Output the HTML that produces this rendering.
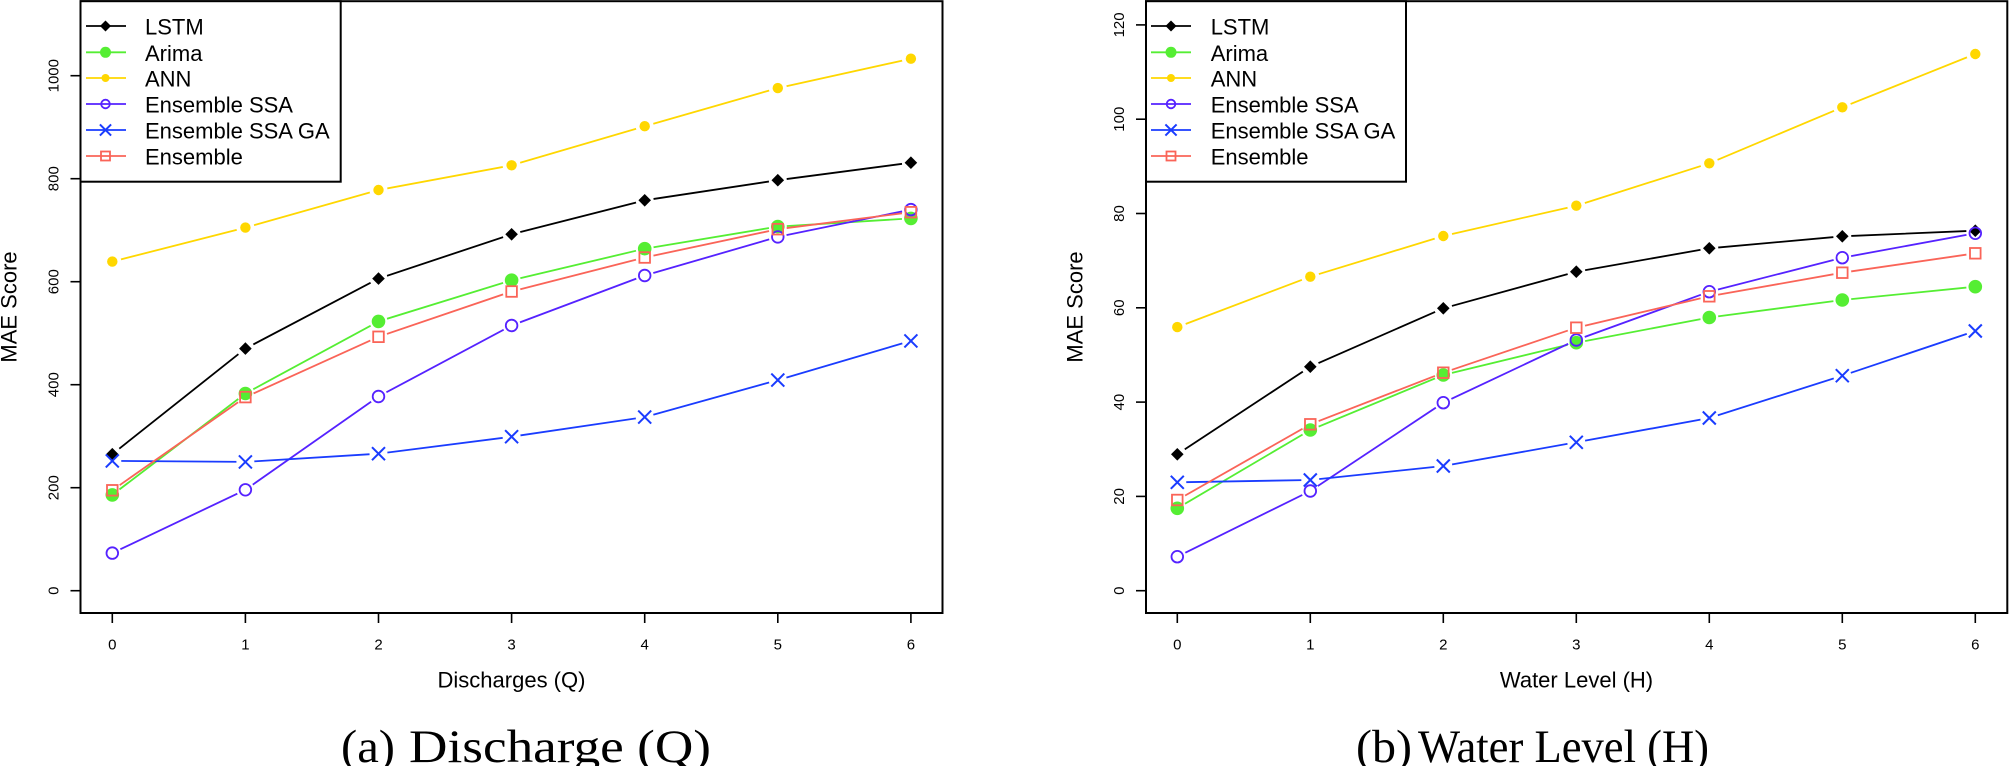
<!DOCTYPE html>
<html><head><meta charset="utf-8"><style>
html,body{margin:0;padding:0;background:#fff;}
svg{display:block;}
text{font-family:"Liberation Sans",Arial,sans-serif;fill:#000;}
.cap{font-family:"Liberation Serif","Times New Roman",serif;font-size:47px;}
.tk{font-size:15px;}
.lb{font-size:22px;}
.lg{font-size:22px;}
</style></head><body>
<svg width="2011" height="766" viewBox="0 0 2011 766" xmlns="http://www.w3.org/2000/svg">
<defs>
<polygon id="d" points="0,-6.3 6.3,0 0,6.3 -6.3,0" fill="#000"/>
<circle id="a" r="6.8" fill="#55ee33"/>
<circle id="n" r="5.2" fill="#ffd700"/>
<circle id="s" r="5.8" fill="none" stroke="#5522ff" stroke-width="1.8"/>
<path id="g" d="M-6.5,-6.5 L6.5,6.5 M-6.5,6.5 L6.5,-6.5" stroke="#1a3cff" stroke-width="2" fill="none"/>
<rect id="e" x="-5.3" y="-5.3" width="10.6" height="10.6" fill="none" stroke="#fa6458" stroke-width="1.8"/>
<polygon id="dl" points="0,-5.5 5.5,0 0,5.5 -5.5,0" fill="#000"/>
<circle id="al" r="5.5" fill="#55ee33"/>
<circle id="nl" r="4" fill="#ffd700"/>
<circle id="sl" r="4.3" fill="none" stroke="#5522ff" stroke-width="1.8"/>
<path id="gl" d="M-5.6,-5.6 L5.6,5.6 M-5.6,5.6 L5.6,-5.6" stroke="#1a3cff" stroke-width="2" fill="none"/>
<rect id="el" x="-4.5" y="-4.5" width="9" height="9" fill="none" stroke="#fa6458" stroke-width="1.8"/>

<mask id="m1" maskUnits="userSpaceOnUse" x="0" y="0" width="2011" height="766"><rect width="2011" height="766" fill="#fff"/>
<circle cx="112.3" cy="454.2" r="9"/><circle cx="245.4" cy="348.6" r="9"/><circle cx="378.5" cy="278.6" r="9"/><circle cx="511.6" cy="234.3" r="9"/><circle cx="644.7" cy="200.3" r="9"/><circle cx="777.8" cy="180.2" r="9"/><circle cx="910.9" cy="162.7" r="9"/></mask>
<mask id="m2" maskUnits="userSpaceOnUse" x="0" y="0" width="2011" height="766"><rect width="2011" height="766" fill="#fff"/>
<circle cx="112.3" cy="494.9" r="9"/><circle cx="245.4" cy="393.5" r="9"/><circle cx="378.5" cy="321.4" r="9"/><circle cx="511.6" cy="280.2" r="9"/><circle cx="644.7" cy="248.7" r="9"/><circle cx="777.8" cy="226.6" r="9"/><circle cx="910.9" cy="218.4" r="9"/></mask>
<mask id="m3" maskUnits="userSpaceOnUse" x="0" y="0" width="2011" height="766"><rect width="2011" height="766" fill="#fff"/>
<circle cx="112.3" cy="261.6" r="9"/><circle cx="245.4" cy="227.6" r="9"/><circle cx="378.5" cy="190.0" r="9"/><circle cx="511.6" cy="165.3" r="9"/><circle cx="644.7" cy="126.2" r="9"/><circle cx="777.8" cy="88.1" r="9"/><circle cx="910.9" cy="58.7" r="9"/></mask>
<mask id="m4" maskUnits="userSpaceOnUse" x="0" y="0" width="2011" height="766"><rect width="2011" height="766" fill="#fff"/>
<circle cx="112.3" cy="553.1" r="9"/><circle cx="245.4" cy="489.8" r="9"/><circle cx="378.5" cy="396.5" r="9"/><circle cx="511.6" cy="325.5" r="9"/><circle cx="644.7" cy="275.5" r="9"/><circle cx="777.8" cy="236.9" r="9"/><circle cx="910.9" cy="209.6" r="9"/></mask>
<mask id="m5" maskUnits="userSpaceOnUse" x="0" y="0" width="2011" height="766"><rect width="2011" height="766" fill="#fff"/>
<circle cx="112.3" cy="460.9" r="9"/><circle cx="245.4" cy="461.9" r="9"/><circle cx="378.5" cy="453.7" r="9"/><circle cx="511.6" cy="436.7" r="9"/><circle cx="644.7" cy="417.1" r="9"/><circle cx="777.8" cy="380.1" r="9"/><circle cx="910.9" cy="340.9" r="9"/></mask>
<mask id="m6" maskUnits="userSpaceOnUse" x="0" y="0" width="2011" height="766"><rect width="2011" height="766" fill="#fff"/>
<circle cx="112.3" cy="490.3" r="9"/><circle cx="245.4" cy="397.1" r="9"/><circle cx="378.5" cy="336.8" r="9"/><circle cx="511.6" cy="291.5" r="9"/><circle cx="644.7" cy="257.5" r="9"/><circle cx="777.8" cy="229.2" r="9"/><circle cx="910.9" cy="212.2" r="9"/></mask>

<mask id="r1" maskUnits="userSpaceOnUse" x="0" y="0" width="2011" height="766"><rect width="2011" height="766" fill="#fff"/>
<circle cx="1177.3" cy="454.3" r="9"/><circle cx="1310.3" cy="366.7" r="9"/><circle cx="1443.3" cy="308.3" r="9"/><circle cx="1576.3" cy="271.7" r="9"/><circle cx="1709.3" cy="248.3" r="9"/><circle cx="1842.3" cy="236.3" r="9"/><circle cx="1975.3" cy="230.7" r="9"/></mask>
<mask id="r2" maskUnits="userSpaceOnUse" x="0" y="0" width="2011" height="766"><rect width="2011" height="766" fill="#fff"/>
<circle cx="1177.3" cy="508.3" r="9"/><circle cx="1310.3" cy="430.0" r="9"/><circle cx="1443.3" cy="375.0" r="9"/><circle cx="1576.3" cy="342.7" r="9"/><circle cx="1709.3" cy="317.5" r="9"/><circle cx="1842.3" cy="300.0" r="9"/><circle cx="1975.3" cy="286.7" r="9"/></mask>
<mask id="r3" maskUnits="userSpaceOnUse" x="0" y="0" width="2011" height="766"><rect width="2011" height="766" fill="#fff"/>
<circle cx="1177.3" cy="327.1" r="9"/><circle cx="1310.3" cy="276.7" r="9"/><circle cx="1443.3" cy="236.0" r="9"/><circle cx="1576.3" cy="205.7" r="9"/><circle cx="1709.3" cy="163.3" r="9"/><circle cx="1842.3" cy="107.3" r="9"/><circle cx="1975.3" cy="54.0" r="9"/></mask>
<mask id="r4" maskUnits="userSpaceOnUse" x="0" y="0" width="2011" height="766"><rect width="2011" height="766" fill="#fff"/>
<circle cx="1177.3" cy="556.7" r="9"/><circle cx="1310.3" cy="491.0" r="9"/><circle cx="1443.3" cy="402.7" r="9"/><circle cx="1576.3" cy="340.0" r="9"/><circle cx="1709.3" cy="291.7" r="9"/><circle cx="1842.3" cy="257.7" r="9"/><circle cx="1975.3" cy="233.3" r="9"/></mask>
<mask id="r5" maskUnits="userSpaceOnUse" x="0" y="0" width="2011" height="766"><rect width="2011" height="766" fill="#fff"/>
<circle cx="1177.3" cy="482.3" r="9"/><circle cx="1310.3" cy="480.0" r="9"/><circle cx="1443.3" cy="466.0" r="9"/><circle cx="1576.3" cy="442.3" r="9"/><circle cx="1709.3" cy="418.0" r="9"/><circle cx="1842.3" cy="375.7" r="9"/><circle cx="1975.3" cy="331.0" r="9"/></mask>
<mask id="r6" maskUnits="userSpaceOnUse" x="0" y="0" width="2011" height="766"><rect width="2011" height="766" fill="#fff"/>
<circle cx="1177.3" cy="500.0" r="9"/><circle cx="1310.3" cy="424.3" r="9"/><circle cx="1443.3" cy="372.7" r="9"/><circle cx="1576.3" cy="327.7" r="9"/><circle cx="1709.3" cy="296.3" r="9"/><circle cx="1842.3" cy="272.7" r="9"/><circle cx="1975.3" cy="253.3" r="9"/></mask>
</defs>

<rect width="2011" height="766" fill="#fff"/>

<!-- ================= LEFT PLOT ================= -->
<g fill="none" stroke-width="1.8">
<polyline mask="url(#m1)" stroke="#000" points="112.3,454.2 245.4,348.6 378.5,278.6 511.6,234.3 644.7,200.3 777.8,180.2 910.9,162.7"/>
<polyline mask="url(#m2)" stroke="#55ee33" points="112.3,494.9 245.4,393.5 378.5,321.4 511.6,280.2 644.7,248.7 777.8,226.6 910.9,218.4"/>
<polyline mask="url(#m3)" stroke="#ffd700" points="112.3,261.6 245.4,227.6 378.5,190.0 511.6,165.3 644.7,126.2 777.8,88.1 910.9,58.7"/>
<polyline mask="url(#m4)" stroke="#5522ff" points="112.3,553.1 245.4,489.8 378.5,396.5 511.6,325.5 644.7,275.5 777.8,236.9 910.9,209.6"/>
<polyline mask="url(#m5)" stroke="#1a3cff" points="112.3,460.9 245.4,461.9 378.5,453.7 511.6,436.7 644.7,417.1 777.8,380.1 910.9,340.9"/>
<polyline mask="url(#m6)" stroke="#fa6458" points="112.3,490.3 245.4,397.1 378.5,336.8 511.6,291.5 644.7,257.5 777.8,229.2 910.9,212.2"/>
</g>
<use href="#d" x="112.3" y="454.2"/><use href="#d" x="245.4" y="348.6"/><use href="#d" x="378.5" y="278.6"/><use href="#d" x="511.6" y="234.3"/><use href="#d" x="644.7" y="200.3"/><use href="#d" x="777.8" y="180.2"/><use href="#d" x="910.9" y="162.7"/>
<use href="#a" x="112.3" y="494.9"/><use href="#a" x="245.4" y="393.5"/><use href="#a" x="378.5" y="321.4"/><use href="#a" x="511.6" y="280.2"/><use href="#a" x="644.7" y="248.7"/><use href="#a" x="777.8" y="226.6"/><use href="#a" x="910.9" y="218.4"/>
<use href="#n" x="112.3" y="261.6"/><use href="#n" x="245.4" y="227.6"/><use href="#n" x="378.5" y="190.0"/><use href="#n" x="511.6" y="165.3"/><use href="#n" x="644.7" y="126.2"/><use href="#n" x="777.8" y="88.1"/><use href="#n" x="910.9" y="58.7"/>
<use href="#s" x="112.3" y="553.1"/><use href="#s" x="245.4" y="489.8"/><use href="#s" x="378.5" y="396.5"/><use href="#s" x="511.6" y="325.5"/><use href="#s" x="644.7" y="275.5"/><use href="#s" x="777.8" y="236.9"/><use href="#s" x="910.9" y="209.6"/>
<use href="#g" x="112.3" y="460.9"/><use href="#g" x="245.4" y="461.9"/><use href="#g" x="378.5" y="453.7"/><use href="#g" x="511.6" y="436.7"/><use href="#g" x="644.7" y="417.1"/><use href="#g" x="777.8" y="380.1"/><use href="#g" x="910.9" y="340.9"/>
<use href="#e" x="112.3" y="490.3"/><use href="#e" x="245.4" y="397.1"/><use href="#e" x="378.5" y="336.8"/><use href="#e" x="511.6" y="291.5"/><use href="#e" x="644.7" y="257.5"/><use href="#e" x="777.8" y="229.2"/><use href="#e" x="910.9" y="212.2"/>

<rect x="80.5" y="1.2" width="862" height="611.8" fill="none" stroke="#000" stroke-width="2"/>
<g stroke="#000" stroke-width="1.6">
<line x1="112.3" y1="613" x2="112.3" y2="623"/><line x1="245.4" y1="613" x2="245.4" y2="623"/><line x1="378.5" y1="613" x2="378.5" y2="623"/><line x1="511.6" y1="613" x2="511.6" y2="623"/><line x1="644.7" y1="613" x2="644.7" y2="623"/><line x1="777.8" y1="613" x2="777.8" y2="623"/><line x1="910.9" y1="613" x2="910.9" y2="623"/>
<line x1="70.5" y1="590.7" x2="80.5" y2="590.7"/><line x1="70.5" y1="487.7" x2="80.5" y2="487.7"/><line x1="70.5" y1="384.7" x2="80.5" y2="384.7"/><line x1="70.5" y1="281.7" x2="80.5" y2="281.7"/><line x1="70.5" y1="178.7" x2="80.5" y2="178.7"/><line x1="70.5" y1="75.7" x2="80.5" y2="75.7"/>
</g>
<g class="tk" text-anchor="middle">
<text x="112.3" y="649.3">0</text><text x="245.4" y="649.3">1</text><text x="378.5" y="649.3">2</text><text x="511.6" y="649.3">3</text><text x="644.7" y="649.3">4</text><text x="777.8" y="649.3">5</text><text x="910.9" y="649.3">6</text>
<text transform="translate(58.3,590.7) rotate(-90)">0</text>
<text transform="translate(58.3,487.7) rotate(-90)">200</text>
<text transform="translate(58.3,384.7) rotate(-90)">400</text>
<text transform="translate(58.3,281.7) rotate(-90)">600</text>
<text transform="translate(58.3,178.7) rotate(-90)">800</text>
<text transform="translate(58.3,75.7) rotate(-90)">1000</text>
</g>
<text class="lb" x="511.5" y="687.3" text-anchor="middle">Discharges (Q)</text>
<text class="lb" transform="translate(16.7,307) rotate(-90)" text-anchor="middle">MAE Score</text>

<rect x="80.5" y="1.2" width="260.2" height="180.5" fill="#fff" stroke="#000" stroke-width="2"/>
<g stroke-width="1.8">
<line x1="86" y1="26" x2="126" y2="26" stroke="#000"/>
<line x1="86" y1="52.3" x2="126" y2="52.3" stroke="#55ee33"/>
<line x1="86" y1="78" x2="126" y2="78" stroke="#ffd700"/>
<line x1="86" y1="104" x2="126" y2="104" stroke="#5522ff"/>
<line x1="86" y1="130" x2="126" y2="130" stroke="#1a3cff"/>
<line x1="86" y1="156" x2="126" y2="156" stroke="#fa6458"/>
</g>
<use href="#dl" x="105.5" y="26"/><use href="#al" x="105.5" y="52.3"/><use href="#nl" x="105.5" y="78"/><use href="#sl" x="105.5" y="104"/><use href="#gl" x="105.5" y="130"/><use href="#el" x="105.5" y="156"/>
<g class="lg">
<text x="145" y="34.5">LSTM</text>
<text x="145" y="60.8">Arima</text>
<text x="145" y="86.5">ANN</text>
<text x="145" y="112.5">Ensemble SSA</text>
<text x="145" y="138.5">Ensemble SSA GA</text>
<text x="145" y="164.5">Ensemble</text>
</g>

<!-- ================= RIGHT PLOT ================= -->
<g fill="none" stroke-width="1.8">
<polyline mask="url(#r1)" stroke="#000" points="1177.3,454.3 1310.3,366.7 1443.3,308.3 1576.3,271.7 1709.3,248.3 1842.3,236.3 1975.3,230.7"/>
<polyline mask="url(#r2)" stroke="#55ee33" points="1177.3,508.3 1310.3,430.0 1443.3,375.0 1576.3,342.7 1709.3,317.5 1842.3,300.0 1975.3,286.7"/>
<polyline mask="url(#r3)" stroke="#ffd700" points="1177.3,327.1 1310.3,276.7 1443.3,236.0 1576.3,205.7 1709.3,163.3 1842.3,107.3 1975.3,54.0"/>
<polyline mask="url(#r4)" stroke="#5522ff" points="1177.3,556.7 1310.3,491.0 1443.3,402.7 1576.3,340.0 1709.3,291.7 1842.3,257.7 1975.3,233.3"/>
<polyline mask="url(#r5)" stroke="#1a3cff" points="1177.3,482.3 1310.3,480.0 1443.3,466.0 1576.3,442.3 1709.3,418.0 1842.3,375.7 1975.3,331.0"/>
<polyline mask="url(#r6)" stroke="#fa6458" points="1177.3,500.0 1310.3,424.3 1443.3,372.7 1576.3,327.7 1709.3,296.3 1842.3,272.7 1975.3,253.3"/>
</g>
<use href="#d" x="1177.3" y="454.3"/><use href="#d" x="1310.3" y="366.7"/><use href="#d" x="1443.3" y="308.3"/><use href="#d" x="1576.3" y="271.7"/><use href="#d" x="1709.3" y="248.3"/><use href="#d" x="1842.3" y="236.3"/><use href="#d" x="1975.3" y="230.7"/>
<use href="#a" x="1177.3" y="508.3"/><use href="#a" x="1310.3" y="430.0"/><use href="#a" x="1443.3" y="375.0"/><use href="#a" x="1576.3" y="342.7"/><use href="#a" x="1709.3" y="317.5"/><use href="#a" x="1842.3" y="300.0"/><use href="#a" x="1975.3" y="286.7"/>
<use href="#n" x="1177.3" y="327.1"/><use href="#n" x="1310.3" y="276.7"/><use href="#n" x="1443.3" y="236.0"/><use href="#n" x="1576.3" y="205.7"/><use href="#n" x="1709.3" y="163.3"/><use href="#n" x="1842.3" y="107.3"/><use href="#n" x="1975.3" y="54.0"/>
<use href="#s" x="1177.3" y="556.7"/><use href="#s" x="1310.3" y="491.0"/><use href="#s" x="1443.3" y="402.7"/><use href="#s" x="1576.3" y="340.0"/><use href="#s" x="1709.3" y="291.7"/><use href="#s" x="1842.3" y="257.7"/><use href="#s" x="1975.3" y="233.3"/>
<use href="#g" x="1177.3" y="482.3"/><use href="#g" x="1310.3" y="480.0"/><use href="#g" x="1443.3" y="466.0"/><use href="#g" x="1576.3" y="442.3"/><use href="#g" x="1709.3" y="418.0"/><use href="#g" x="1842.3" y="375.7"/><use href="#g" x="1975.3" y="331.0"/>
<use href="#e" x="1177.3" y="500.0"/><use href="#e" x="1310.3" y="424.3"/><use href="#e" x="1443.3" y="372.7"/><use href="#e" x="1576.3" y="327.7"/><use href="#e" x="1709.3" y="296.3"/><use href="#e" x="1842.3" y="272.7"/><use href="#e" x="1975.3" y="253.3"/>

<rect x="1146" y="1.2" width="861.3" height="611.8" fill="none" stroke="#000" stroke-width="2"/>
<g stroke="#000" stroke-width="1.6">
<line x1="1177.3" y1="613" x2="1177.3" y2="623"/><line x1="1310.3" y1="613" x2="1310.3" y2="623"/><line x1="1443.3" y1="613" x2="1443.3" y2="623"/><line x1="1576.3" y1="613" x2="1576.3" y2="623"/><line x1="1709.3" y1="613" x2="1709.3" y2="623"/><line x1="1842.3" y1="613" x2="1842.3" y2="623"/><line x1="1975.3" y1="613" x2="1975.3" y2="623"/>
<line x1="1136" y1="590.7" x2="1146" y2="590.7"/><line x1="1136" y1="496.4" x2="1146" y2="496.4"/><line x1="1136" y1="402.1" x2="1146" y2="402.1"/><line x1="1136" y1="307.8" x2="1146" y2="307.8"/><line x1="1136" y1="213.5" x2="1146" y2="213.5"/><line x1="1136" y1="119.2" x2="1146" y2="119.2"/><line x1="1136" y1="24.9" x2="1146" y2="24.9"/>
</g>
<g class="tk" text-anchor="middle">
<text x="1177.3" y="649.3">0</text><text x="1310.3" y="649.3">1</text><text x="1443.3" y="649.3">2</text><text x="1576.3" y="649.3">3</text><text x="1709.3" y="649.3">4</text><text x="1842.3" y="649.3">5</text><text x="1975.3" y="649.3">6</text>
<text transform="translate(1124,590.7) rotate(-90)">0</text>
<text transform="translate(1124,496.4) rotate(-90)">20</text>
<text transform="translate(1124,402.1) rotate(-90)">40</text>
<text transform="translate(1124,307.8) rotate(-90)">60</text>
<text transform="translate(1124,213.5) rotate(-90)">80</text>
<text transform="translate(1124,119.2) rotate(-90)">100</text>
<text transform="translate(1124,24.9) rotate(-90)">120</text>
</g>
<text class="lb" x="1576.5" y="687.3" text-anchor="middle">Water Level (H)</text>
<text class="lb" transform="translate(1082.4,307) rotate(-90)" text-anchor="middle">MAE Score</text>

<rect x="1146" y="1.2" width="260" height="180.5" fill="#fff" stroke="#000" stroke-width="2"/>
<g stroke-width="1.8">
<line x1="1151" y1="26" x2="1191" y2="26" stroke="#000"/>
<line x1="1151" y1="52.3" x2="1191" y2="52.3" stroke="#55ee33"/>
<line x1="1151" y1="78" x2="1191" y2="78" stroke="#ffd700"/>
<line x1="1151" y1="104" x2="1191" y2="104" stroke="#5522ff"/>
<line x1="1151" y1="130" x2="1191" y2="130" stroke="#1a3cff"/>
<line x1="1151" y1="156" x2="1191" y2="156" stroke="#fa6458"/>
</g>
<use href="#dl" x="1171" y="26"/><use href="#al" x="1171" y="52.3"/><use href="#nl" x="1171" y="78"/><use href="#sl" x="1171" y="104"/><use href="#gl" x="1171" y="130"/><use href="#el" x="1171" y="156"/>
<g class="lg">
<text x="1210.7" y="34.5">LSTM</text>
<text x="1210.7" y="60.8">Arima</text>
<text x="1210.7" y="86.5">ANN</text>
<text x="1210.7" y="112.5">Ensemble SSA</text>
<text x="1210.7" y="138.5">Ensemble SSA GA</text>
<text x="1210.7" y="164.5">Ensemble</text>
</g>

<!-- captions -->
<text class="cap" x="341" y="762" textLength="54" lengthAdjust="spacingAndGlyphs">(a)</text>
<text class="cap" x="409" y="762" textLength="302" lengthAdjust="spacingAndGlyphs">Discharge (Q)</text>
<text class="cap" x="1356" y="762" textLength="56" lengthAdjust="spacingAndGlyphs">(b)</text>
<text class="cap" x="1418" y="762" textLength="291" lengthAdjust="spacingAndGlyphs">Water Level (H)</text>
</svg>
</body></html>
